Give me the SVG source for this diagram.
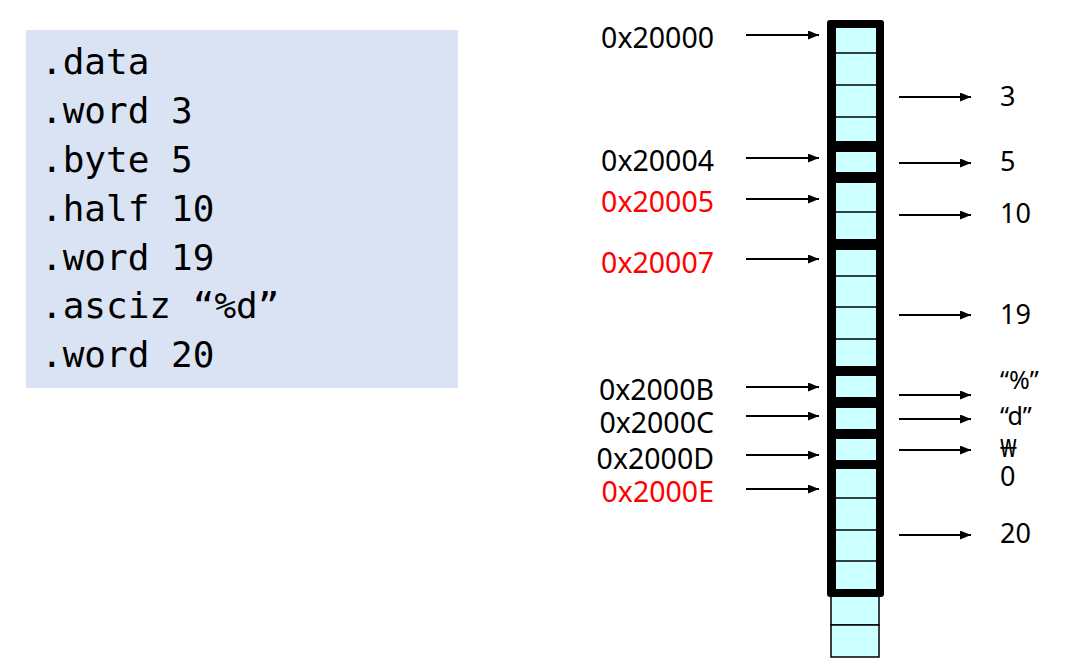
<svg xmlns="http://www.w3.org/2000/svg" width="1085" height="664" viewBox="0 0 1085 664">
<style>
.code{font-family:"DejaVu Sans Mono","Liberation Mono",monospace;font-size:36px;fill:#000}
.lbl{font-family:"Noto Sans","Open Sans",sans-serif;font-size:28.5px;fill:#000}
.addr{text-anchor:end}
.red{fill:#FF0000}
.val{font-family:"Noto Sans","Open Sans",sans-serif;font-size:27px;fill:#000}
.sm{font-size:25px}
.cell{fill:#CCFFFF}
.div{stroke:#000;stroke-width:1.5}
.arr{stroke:#000;stroke-width:2;fill:none;marker-end:url(#ah)}
.ext{fill:#CCFFFF;stroke:#000;stroke-width:1.5}
</style>
<defs>
<marker id="ah" markerWidth="11" markerHeight="9" refX="11" refY="4.5" orient="auto" markerUnits="userSpaceOnUse">
<path d="M0,0 L11,4.5 L0,9 Z" fill="#000"/>
</marker>
</defs>
<rect width="1085" height="664" fill="#fff"/>
<g id="code">
<rect x="26" y="30" width="432" height="358" fill="#DAE3F3"/>
<text class="code" x="41" y="74">.data</text>
<text class="code" x="41" y="123">.word 3</text>
<text class="code" x="41" y="172">.byte 5</text>
<text class="code" x="41" y="221">.half 10</text>
<text class="code" x="41" y="270">.word 19</text>
<text class="code" x="41" y="318">.asciz “%d”</text>
<text class="code" x="41" y="367">.word 20</text>
</g>
<g id="memory">
<rect class="ext" x="831" y="590" width="48" height="35"/>
<rect class="ext" x="831" y="625" width="48" height="32"/>
<rect x="827" y="20" width="57" height="577" rx="3" fill="#000"/>
<rect class="cell" x="836" y="28" width="40" height="113"/>
<line class="div" x1="836" y1="53" x2="876" y2="53"/>
<line class="div" x1="836" y1="85" x2="876" y2="85"/>
<line class="div" x1="836" y1="117" x2="876" y2="117"/>
<rect class="cell" x="836" y="152" width="40" height="20"/>
<rect class="cell" x="836" y="183" width="40" height="56"/>
<line class="div" x1="836" y1="212" x2="876" y2="212"/>
<rect class="cell" x="836" y="250" width="40" height="116"/>
<line class="div" x1="836" y1="276" x2="876" y2="276"/>
<line class="div" x1="836" y1="307" x2="876" y2="307"/>
<line class="div" x1="836" y1="339" x2="876" y2="339"/>
<rect class="cell" x="836" y="376" width="40" height="21"/>
<rect class="cell" x="836" y="408" width="40" height="21"/>
<rect class="cell" x="836" y="439" width="40" height="21"/>
<rect class="cell" x="836" y="469" width="40" height="120"/>
<line class="div" x1="836" y1="498" x2="876" y2="498"/>
<line class="div" x1="836" y1="530" x2="876" y2="530"/>
<line class="div" x1="836" y1="561" x2="876" y2="561"/>
</g>
<g id="addresses">
<text class="lbl addr" x="714" y="48">0x20000</text>
<text class="lbl addr" x="714" y="171">0x20004</text>
<text class="lbl addr red" x="714" y="212">0x20005</text>
<text class="lbl addr red" x="714" y="273">0x20007</text>
<text class="lbl addr" x="714" y="400">0x2000B</text>
<text class="lbl addr" x="714" y="433">0x2000C</text>
<text class="lbl addr" x="714" y="469">0x2000D</text>
<text class="lbl addr red" x="714" y="502">0x2000E</text>
</g>
<g id="values">
<text class="val" x="1000" y="106">3</text>
<text class="val" x="1000" y="171">5</text>
<text class="val" x="1000" y="223">10</text>
<text class="val" x="1000" y="324">19</text>
<text class="val sm" x="1000" y="389">“%”</text>
<text class="val sm" x="1000" y="425">“d”</text>
<text class="val sm" x="1000" y="457">₩</text>
<text class="val" x="1000" y="486">0</text>
<text class="val" x="1000" y="543">20</text>
</g>
<g id="connectors">
<line class="arr" x1="746" y1="35" x2="819" y2="35"/>
<line class="arr" x1="746" y1="158" x2="819" y2="158"/>
<line class="arr" x1="746" y1="199" x2="819" y2="199"/>
<line class="arr" x1="746" y1="259" x2="819" y2="259"/>
<line class="arr" x1="746" y1="387" x2="819" y2="387"/>
<line class="arr" x1="746" y1="416" x2="819" y2="416"/>
<line class="arr" x1="746" y1="455" x2="819" y2="455"/>
<line class="arr" x1="746" y1="489" x2="819" y2="489"/>
<line class="arr" x1="899" y1="97" x2="971" y2="97"/>
<line class="arr" x1="899" y1="163" x2="971" y2="163"/>
<line class="arr" x1="899" y1="215" x2="971" y2="215"/>
<line class="arr" x1="899" y1="315" x2="971" y2="315"/>
<line class="arr" x1="899" y1="395" x2="971" y2="395"/>
<line class="arr" x1="899" y1="419" x2="971" y2="419"/>
<line class="arr" x1="899" y1="450" x2="971" y2="450"/>
<line class="arr" x1="899" y1="535" x2="971" y2="535"/>
</g>
</svg>
